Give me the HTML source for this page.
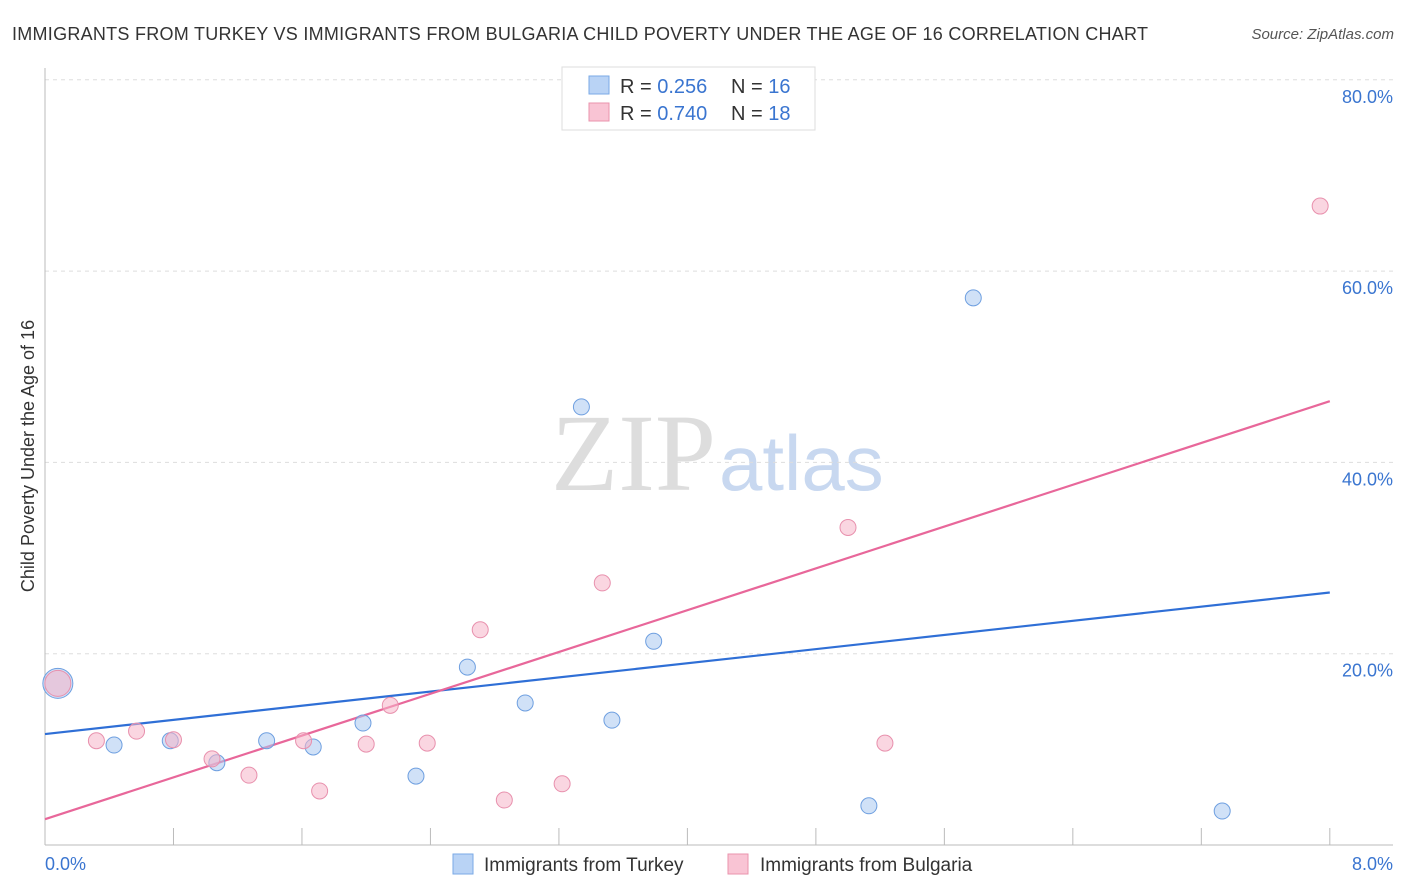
<!DOCTYPE html>
<html><head><meta charset="utf-8"><style>
body{margin:0;background:#fff;font-family:"Liberation Sans",sans-serif;}
#wrap{position:relative;width:1406px;height:892px;overflow:hidden;}
</style></head><body>
<div id="wrap">
<svg id="svg" width="1406" height="892" xmlns="http://www.w3.org/2000/svg">
<text x="12" y="40" font-size="18" fill="#333" textLength="1136">IMMIGRANTS FROM TURKEY VS IMMIGRANTS FROM BULGARIA CHILD POVERTY UNDER THE AGE OF 16 CORRELATION CHART</text>
<text x="1394" y="39" font-size="15" fill="#555" font-style="italic" text-anchor="end">Source: ZipAtlas.com</text>
<text x="716" y="490" font-size="110" fill="#ddd" text-anchor="end" font-family="Liberation Serif,serif">ZIP</text>
<text x="719" y="490" font-size="78" fill="#c8d8f0">atlas</text>
<text transform="translate(34,456) rotate(-90)" font-size="18" fill="#333" text-anchor="middle">Child Poverty Under the Age of 16</text>
<g id="grid"></g><g id="lines"></g><g id="pts"></g>
<g>
<rect x="562" y="67" width="253" height="63" fill="#fff" stroke="#ddd"/>
<rect x="589" y="76" width="20" height="18" fill="#b9d3f5" stroke="#7aaae6"/>
<rect x="589" y="103" width="20" height="18" fill="#f9c4d4" stroke="#ea93ad"/>
<text x="620" y="93" font-size="20" fill="#333">R = <tspan fill="#3a75d0">0.256</tspan><tspan x="731">N = </tspan><tspan fill="#3a75d0">16</tspan></text>
<text x="620" y="120" font-size="20" fill="#333">R = <tspan fill="#3a75d0">0.740</tspan><tspan x="731">N = </tspan><tspan fill="#3a75d0">18</tspan></text>
</g>
<g>
<rect x="453" y="854" width="20" height="20" fill="#b9d3f5" stroke="#7aaae6"/>
<text x="484" y="871" font-size="19" fill="#333">Immigrants from Turkey</text>
<rect x="728" y="854" width="20" height="20" fill="#f9c4d4" stroke="#ea93ad"/>
<text x="760" y="871" font-size="19" fill="#333">Immigrants from Bulgaria</text>
</g>
</svg></div>
<script>
const turkeyX=[0.08,0.43,0.78,1.07,1.38,1.67,1.98,2.31,2.63,2.99,3.34,3.53,3.79,5.13,5.78,7.33];
const turkeyY=[16.9,10.45,10.9,8.6,10.9,10.25,12.75,7.2,18.6,14.85,45.8,13.05,21.3,4.1,57.2,3.55];
const bulgariaX=[0.08,0.32,0.57,0.80,1.04,1.27,1.61,1.71,2.0,2.15,2.38,2.71,2.86,3.22,3.47,5.0,5.23,7.94];
const bulgariaY=[16.9,10.9,11.9,11.0,9.0,7.3,10.9,5.65,10.55,14.6,10.65,22.5,4.7,6.4,27.4,33.2,10.65,66.8];
const turkeyTrend=[11.6,26.4];
const bulgariaTrend=[2.7,46.4];
const yTicks=[20,40,60,80];
const yTickLabels=["20.0%","40.0%","60.0%","80.0%"];
const xTickVals=[0,0.8,1.6,2.4,3.2,4,4.8,5.6,6.4,7.2,8];
const xLabels=["0.0%","8.0%"];
const NS="http://www.w3.org/2000/svg";
const sx=v=>45+v*160.6, sy=v=>845-v*9.565;
function mk(t,a,p){const e=document.createElementNS(NS,t);for(const k in a)e.setAttribute(k,a[k]);p.appendChild(e);return e;}
const g=document.getElementById('grid');
yTicks.forEach((t,i)=>{
 const l=mk('line',{x1:45,x2:1393,y1:sy(t),y2:sy(t),stroke:'#ddd','stroke-dasharray':'4,4'},g);
 
 
 const tx=mk('text',{x:1393,y:sy(t)+23,'font-size':18,fill:'#3a75d0','text-anchor':'end'},g);
 tx.textContent=yTickLabels[i];
 
 
});
const ax=mk('line',{x1:45,x2:45,y1:68,y2:845,stroke:'#bbb'},g);


const bx=mk('line',{x1:45,x2:1393,y1:845,y2:845,stroke:'#bbb'},g);


xTickVals.forEach(v=>{
 const t=mk('line',{x1:sx(v),x2:sx(v),y1:828,y2:845,stroke:'#bbb'},g);
 
 
});
[[0,'start',45],[8,'end',1393]].forEach((d,i)=>{
 const t=mk('text',{x:d[2],y:870,'font-size':18,fill:'#3a75d0','text-anchor':d[1]},g);
 t.textContent=xLabels[i];
 
 
});
const L=document.getElementById('lines');
const tl1=mk('line',{x1:sx(0),y1:sy(turkeyTrend[0]),x2:sx(8),y2:sy(turkeyTrend[1]),stroke:'#2f6fd6','stroke-width':2.2},L);


const tl2=mk('line',{x1:sx(0),y1:sy(bulgariaTrend[0]),x2:sx(8),y2:sy(bulgariaTrend[1]),stroke:'#e8679a','stroke-width':2.2},L);


const P=document.getElementById('pts');
turkeyX.forEach((x,i)=>{
 const c=mk('circle',{cx:sx(x),cy:sy(turkeyY[i]),r:i==0?15:8,fill:'rgba(170,200,240,0.55)',stroke:'#6e9fe0','stroke-width':1},P);
 
 
});
bulgariaX.forEach((x,i)=>{
 const c=mk('circle',{cx:sx(x),cy:sy(bulgariaY[i]),r:i==0?13:8,fill:'rgba(245,180,200,0.55)',stroke:'#e890ad','stroke-width':1},P);
 
 
});
</script>
</body></html>
